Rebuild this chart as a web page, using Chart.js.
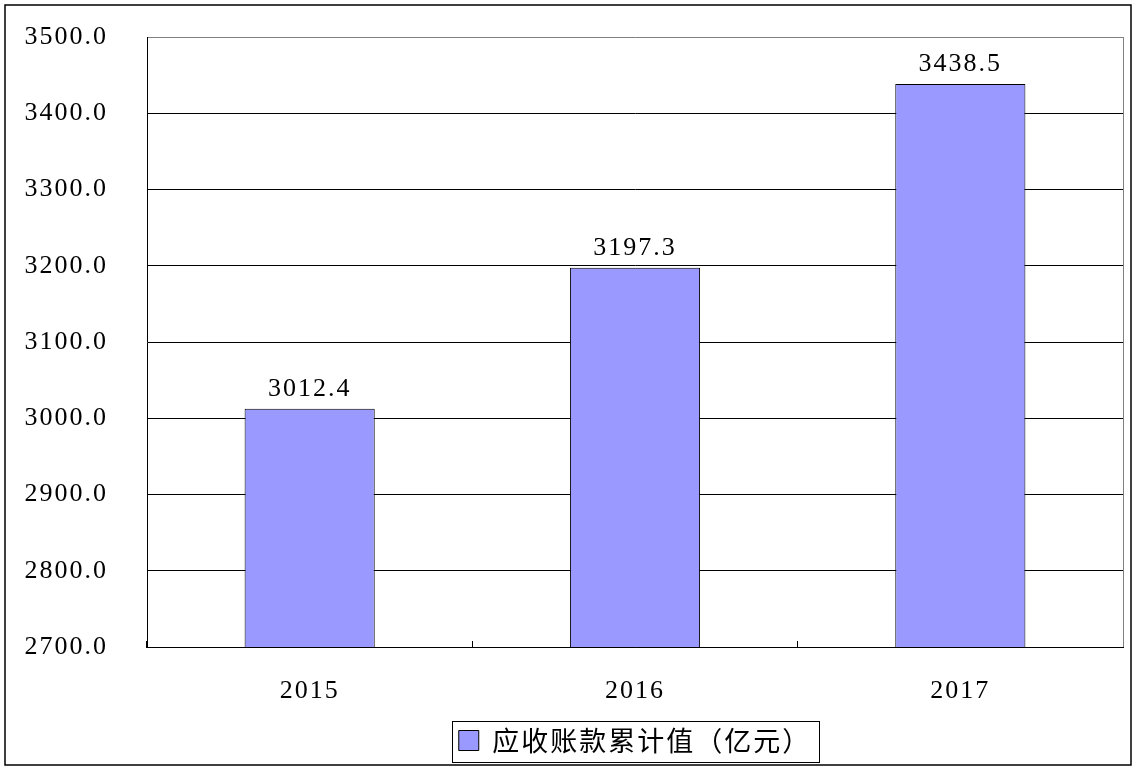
<!DOCTYPE html>
<html>
<head>
<meta charset="utf-8">
<script src="https://cdn.jsdelivr.net/npm/chart.js@4"></script>
<style>
  body { margin: 0; background: #fff; }
  #wrap { width: 1138px; height: 771px; }
</style>
</head>
<body>
<div id="wrap"><canvas id="chart"></canvas></div>
<script>
let years = ['2015', '2016', '2017']
let receivables = [3012.4, 3197.3, 3438.5]
let seriesName = '应收账款累计值（亿元）'
let yMin = 2700, yMax = 3500, yStep = 100

let numFont = "'Liberation Serif', 'DejaVu Serif', serif"
let cjkFont = "'Noto Sans CJK SC', sans-serif"

// canvas has no letter-spacing option in chart.js, so set it on the context
let spacing = {
   id: 'spacing',
   beforeLayout(c) { c.ctx.letterSpacing = '2px' },
   beforeDraw(c) { c.ctx.letterSpacing = '2px' }
}

// legend sits centred under the plot, not under the whole canvas
let legendShift = {
   id: 'legendShift',
   afterUpdate(c) {
      let lg = c.legend, a = c.chartArea
      let dx = (a.left + a.right) / 2 - (lg.left + lg.right) / 2
      lg.left += dx
      lg.right += dx
   }
}

let frame = {
   id: 'frame',
   afterDraw(c) {
      let ctx = c.ctx, a = c.chartArea, lg = c.legend
      ctx.save()
      // gray right edge of plot
      ctx.strokeStyle = '#808080'
      ctx.lineWidth = 1
      ctx.beginPath()
      ctx.moveTo(Math.round(a.right) + 0.5, a.top)
      ctx.lineTo(Math.round(a.right) + 0.5, a.bottom)
      ctx.stroke()
      // value labels
      ctx.fillStyle = '#000'
      ctx.font = '26px ' + numFont
      ctx.textAlign = 'center'
      ctx.textBaseline = 'alphabetic'
      let meta = c.getDatasetMeta(0)
      meta.data.forEach((bar, i) => {
         ctx.fillText(receivables[i].toFixed(1), bar.x, bar.y - 13)
      })
      // legend box
      ctx.font = '27px ' + cjkFont
      let w = 20 + 8 + ctx.measureText(seriesName).width
      let cx = (lg.left + lg.right) / 2
      let cy = lg.top + lg.height / 2
      ctx.strokeStyle = '#000'
      ctx.lineWidth = 1
      ctx.strokeRect(Math.round(cx - w / 2 - 10) + 0.5, Math.round(cy - 20) + 0.5, Math.round(w + 20), 41)
      // outer border
      ctx.lineWidth = 1.5
      ctx.strokeRect(5, 5, 1126, 760)
      ctx.restore()
   }
}

let chart = new Chart(document.getElementById('chart'), {
   type: 'bar',
   data: {
      labels: years,
      datasets: [{
         label: seriesName,
         data: receivables,
         backgroundColor: '#9999FF',
         borderColor: '#000',
         borderWidth: 1,
         barPercentage: 0.8,
         categoryPercentage: 0.5
      }]
   },
   options: {
      responsive: true,
      maintainAspectRatio: false,
      animation: false,
      layout: { padding: { left: 10, top: 37, right: 15, bottom: 7 } },
      plugins: {
         tooltip: { enabled: false },
         legend: {
            position: 'bottom',
            labels: {
               font: { family: cjkFont, size: 27 },
               color: '#000',
               boxWidth: 20,
               boxHeight: 20,
               padding: 10,
               useBorderRadius: false
            }
         }
      },
      scales: {
         x: {
            grid: { drawOnChartArea: false, color: '#000', tickLength: -6, offset: true },
            border: { color: '#000', width: 1 },
            ticks: { font: { family: numFont, size: 26 }, color: '#000', padding: 35 },
            afterFit(s) { s.height = 70 }
         },
         y: {
            min: yMin,
            max: yMax,
            grid: {
               drawTicks: false,
               color: ctx => ctx.tick && ctx.tick.value === yMax ? '#808080' : '#000'
            },
            border: { color: '#000', width: 1 },
            ticks: {
               stepSize: yStep,
               padding: 39,
               font: { family: numFont, size: 26 },
               color: '#000',
               callback: v => v.toFixed(1)
            },
            afterFit(s) {
               s.width = 137
               s.paddingTop = 0
               s.paddingBottom = 0
            }
         }
      }
   },
   plugins: [spacing, legendShift, frame]
})
</script>
</body>
</html>
